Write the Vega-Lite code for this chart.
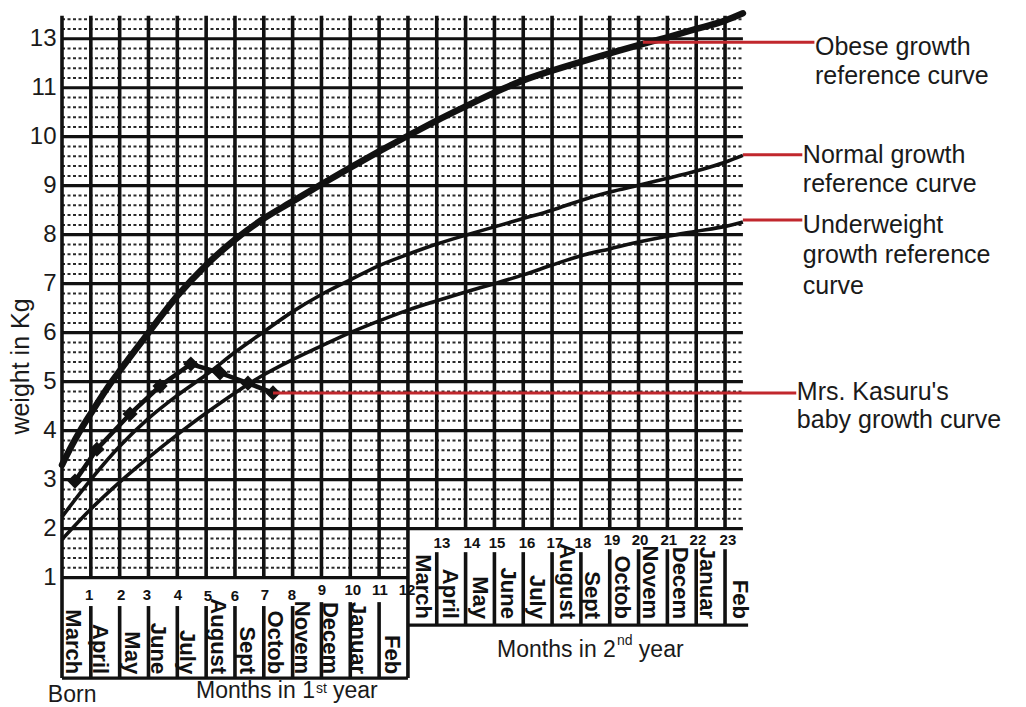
{
  "$schema": "https://vega.github.io/schema/vega-lite/v6.json",
  "width": 964,
  "height": 703,
  "autosize": "none",
  "padding": {"left": 62, "top": 2, "right": 0, "bottom": 2},
  "background": "white",
  "config": {"view": {"stroke": null}},
  "datasets": {
    "hdot": [
      {"x": 0, "x2": 12, "y": 1.2}, {"x": 0, "x2": 12, "y": 1.4}, {"x": 0, "x2": 12, "y": 1.6}, {"x": 0, "x2": 12, "y": 1.8},
      {"x": 0, "x2": 23.62, "y": 2.2}, {"x": 0, "x2": 23.62, "y": 2.4}, {"x": 0, "x2": 23.62, "y": 2.6}, {"x": 0, "x2": 23.62, "y": 2.8},
      {"x": 0, "x2": 23.62, "y": 3.2}, {"x": 0, "x2": 23.62, "y": 3.4}, {"x": 0, "x2": 23.62, "y": 3.6}, {"x": 0, "x2": 23.62, "y": 3.8},
      {"x": 0, "x2": 23.62, "y": 4.2}, {"x": 0, "x2": 23.62, "y": 4.4}, {"x": 0, "x2": 23.62, "y": 4.6}, {"x": 0, "x2": 23.62, "y": 4.8},
      {"x": 0, "x2": 23.62, "y": 5.2}, {"x": 0, "x2": 23.62, "y": 5.4}, {"x": 0, "x2": 23.62, "y": 5.6}, {"x": 0, "x2": 23.62, "y": 5.8},
      {"x": 0, "x2": 23.62, "y": 6.2}, {"x": 0, "x2": 23.62, "y": 6.4}, {"x": 0, "x2": 23.62, "y": 6.6}, {"x": 0, "x2": 23.62, "y": 6.8},
      {"x": 0, "x2": 23.62, "y": 7.2}, {"x": 0, "x2": 23.62, "y": 7.4}, {"x": 0, "x2": 23.62, "y": 7.6}, {"x": 0, "x2": 23.62, "y": 7.8},
      {"x": 0, "x2": 23.62, "y": 8.2}, {"x": 0, "x2": 23.62, "y": 8.4}, {"x": 0, "x2": 23.62, "y": 8.6}, {"x": 0, "x2": 23.62, "y": 8.8},
      {"x": 0, "x2": 23.62, "y": 9.2}, {"x": 0, "x2": 23.62, "y": 9.4}, {"x": 0, "x2": 23.62, "y": 9.6}, {"x": 0, "x2": 23.62, "y": 9.8},
      {"x": 0, "x2": 23.62, "y": 10.2}, {"x": 0, "x2": 23.62, "y": 10.4}, {"x": 0, "x2": 23.62, "y": 10.6}, {"x": 0, "x2": 23.62, "y": 10.8},
      {"x": 0, "x2": 23.62, "y": 11.2}, {"x": 0, "x2": 23.62, "y": 11.4}, {"x": 0, "x2": 23.62, "y": 11.6}, {"x": 0, "x2": 23.62, "y": 11.8},
      {"x": 0, "x2": 23.62, "y": 12.2}, {"x": 0, "x2": 23.62, "y": 12.4}
    ],
    "hgrid": [
      {"x": 0, "x2": 12, "y": 1},
      {"x": 0, "x2": 23.62, "y": 2}, {"x": 0, "x2": 23.62, "y": 3}, {"x": 0, "x2": 23.62, "y": 4}, {"x": 0, "x2": 23.62, "y": 5},
      {"x": 0, "x2": 23.62, "y": 6}, {"x": 0, "x2": 23.62, "y": 7}, {"x": 0, "x2": 23.62, "y": 8}, {"x": 0, "x2": 23.62, "y": 9},
      {"x": 0, "x2": 23.62, "y": 10}, {"x": 0, "x2": 23.62, "y": 11}, {"x": 0, "x2": 23.62, "y": 12},
      {"x": 0, "x2": 12, "y": -1.05},
      {"x": 12, "x2": 23.8, "y": 0.03}
    ],
    "vgrid": [
      {"x": 0, "y": -1.05, "y2": 12.47},
      {"x": 1, "y": 1, "y2": 12.47}, {"x": 2, "y": 1, "y2": 12.47}, {"x": 3, "y": 1, "y2": 12.47}, {"x": 4, "y": 1, "y2": 12.47},
      {"x": 5, "y": 1, "y2": 12.47}, {"x": 6, "y": 1, "y2": 12.47}, {"x": 7, "y": 1, "y2": 12.47}, {"x": 8, "y": 1, "y2": 12.47},
      {"x": 9, "y": 1, "y2": 12.47}, {"x": 10, "y": 1, "y2": 12.47}, {"x": 11, "y": 1, "y2": 12.47},
      {"x": 1, "y": -1.05, "y2": 0.42}, {"x": 2, "y": -1.05, "y2": 0.42}, {"x": 3, "y": -1.05, "y2": 0.42}, {"x": 4, "y": -1.05, "y2": 0.42},
      {"x": 5, "y": -1.05, "y2": 0.42}, {"x": 6, "y": -1.05, "y2": 0.42}, {"x": 7, "y": -1.05, "y2": 0.42}, {"x": 8, "y": -1.05, "y2": 0.42},
      {"x": 9, "y": -1.05, "y2": 0.5}, {"x": 10, "y": -1.05, "y2": 0.5}, {"x": 11, "y": -1.05, "y2": 0.5},
      {"x": 12, "y": -1.05, "y2": 12.47},
      {"x": 13, "y": 2, "y2": 12.47}, {"x": 14, "y": 2, "y2": 12.47}, {"x": 15, "y": 2, "y2": 12.47}, {"x": 16, "y": 2, "y2": 12.47},
      {"x": 17, "y": 2, "y2": 12.47}, {"x": 18, "y": 2, "y2": 12.47}, {"x": 19, "y": 2, "y2": 12.47}, {"x": 20, "y": 2, "y2": 12.47},
      {"x": 21, "y": 2, "y2": 12.47}, {"x": 22, "y": 2, "y2": 12.47}, {"x": 23, "y": 2, "y2": 12.47},
      {"x": 13, "y": 0.03, "y2": 1.52}, {"x": 14, "y": 0.03, "y2": 1.52}, {"x": 15, "y": 0.03, "y2": 1.52}, {"x": 16, "y": 0.03, "y2": 1.52},
      {"x": 17, "y": 0.03, "y2": 1.52}, {"x": 18, "y": 0.03, "y2": 1.52}, {"x": 19, "y": 0.03, "y2": 1.58}, {"x": 20, "y": 0.03, "y2": 1.58},
      {"x": 21, "y": 0.03, "y2": 1.58}, {"x": 22, "y": 0.03, "y2": 1.58}, {"x": 23, "y": 0.03, "y2": 1.58}
    ],
    "curves": [
      {"series": "obese", "x": 0, "y": 3.3}, {"series": "obese", "x": 0.3, "y": 3.65}, {"series": "obese", "x": 0.63, "y": 4.0},
      {"series": "obese", "x": 1, "y": 4.35}, {"series": "obese", "x": 1.7, "y": 4.98}, {"series": "obese", "x": 2, "y": 5.22},
      {"series": "obese", "x": 3, "y": 6.0}, {"series": "obese", "x": 4, "y": 6.75}, {"series": "obese", "x": 5, "y": 7.38},
      {"series": "obese", "x": 6, "y": 7.9}, {"series": "obese", "x": 7, "y": 8.33}, {"series": "obese", "x": 8, "y": 8.68},
      {"series": "obese", "x": 9, "y": 9.03}, {"series": "obese", "x": 10, "y": 9.37}, {"series": "obese", "x": 11, "y": 9.7},
      {"series": "obese", "x": 12, "y": 10.02}, {"series": "obese", "x": 13, "y": 10.33}, {"series": "obese", "x": 14, "y": 10.62},
      {"series": "obese", "x": 15.3, "y": 10.98}, {"series": "obese", "x": 16, "y": 11.15}, {"series": "obese", "x": 17, "y": 11.35},
      {"series": "obese", "x": 18, "y": 11.53}, {"series": "obese", "x": 19, "y": 11.7}, {"series": "obese", "x": 20, "y": 11.87},
      {"series": "obese", "x": 21, "y": 12.03}, {"series": "obese", "x": 22, "y": 12.2}, {"series": "obese", "x": 23, "y": 12.37},
      {"series": "obese", "x": 23.62, "y": 12.52},
      {"series": "normal", "x": 0, "y": 2.24}, {"series": "normal", "x": 1, "y": 3.0}, {"series": "normal", "x": 2, "y": 3.68},
      {"series": "normal", "x": 3, "y": 4.25}, {"series": "normal", "x": 4, "y": 4.72}, {"series": "normal", "x": 5, "y": 5.14},
      {"series": "normal", "x": 6, "y": 5.6}, {"series": "normal", "x": 7, "y": 6.02}, {"series": "normal", "x": 8, "y": 6.43},
      {"series": "normal", "x": 9, "y": 6.78}, {"series": "normal", "x": 10, "y": 7.08}, {"series": "normal", "x": 11, "y": 7.37},
      {"series": "normal", "x": 12, "y": 7.6}, {"series": "normal", "x": 13, "y": 7.81}, {"series": "normal", "x": 14, "y": 7.99},
      {"series": "normal", "x": 15, "y": 8.16}, {"series": "normal", "x": 16, "y": 8.33}, {"series": "normal", "x": 17, "y": 8.5},
      {"series": "normal", "x": 18, "y": 8.7}, {"series": "normal", "x": 19, "y": 8.87}, {"series": "normal", "x": 20, "y": 9.01},
      {"series": "normal", "x": 21, "y": 9.15}, {"series": "normal", "x": 22, "y": 9.3}, {"series": "normal", "x": 23, "y": 9.48},
      {"series": "normal", "x": 23.62, "y": 9.62},
      {"series": "under", "x": 0, "y": 1.78}, {"series": "under", "x": 1, "y": 2.4}, {"series": "under", "x": 2, "y": 2.95},
      {"series": "under", "x": 3, "y": 3.45}, {"series": "under", "x": 4, "y": 3.92}, {"series": "under", "x": 5, "y": 4.36},
      {"series": "under", "x": 6, "y": 4.77}, {"series": "under", "x": 7, "y": 5.14}, {"series": "under", "x": 8, "y": 5.45},
      {"series": "under", "x": 9, "y": 5.73}, {"series": "under", "x": 10, "y": 6.0}, {"series": "under", "x": 11, "y": 6.24},
      {"series": "under", "x": 12, "y": 6.46}, {"series": "under", "x": 13, "y": 6.65}, {"series": "under", "x": 14, "y": 6.83},
      {"series": "under", "x": 15, "y": 7.0}, {"series": "under", "x": 16, "y": 7.18}, {"series": "under", "x": 17, "y": 7.38},
      {"series": "under", "x": 18, "y": 7.57}, {"series": "under", "x": 19, "y": 7.71}, {"series": "under", "x": 20, "y": 7.85},
      {"series": "under", "x": 21, "y": 7.97}, {"series": "under", "x": 22, "y": 8.07}, {"series": "under", "x": 23, "y": 8.17},
      {"series": "under", "x": 23.62, "y": 8.26}
    ],
    "baby": [
      {"x": 0.45, "y": 2.97}, {"x": 1.21, "y": 3.62}, {"x": 2.36, "y": 4.34}, {"x": 3.4, "y": 4.91},
      {"x": 4.47, "y": 5.36}, {"x": 5.48, "y": 5.18}, {"x": 6.45, "y": 4.97}, {"x": 7.32, "y": 4.77}
    ],
    "pointers": [
      {"x": 20.15, "x2": 26.1, "y": 11.93},
      {"x": 23.62, "x2": 25.68, "y": 9.63},
      {"x": 23.62, "x2": 25.68, "y": 8.3},
      {"x": 7.32, "x2": 25.47, "y": 4.77}
    ],
    "notes": [
      {"x": 26.12, "y": 11.668, "text": "Obese growth"},
      {"x": 26.12, "y": 11.076, "text": "reference curve"},
      {"x": 25.7, "y": 9.464, "text": "Normal growth"},
      {"x": 25.7, "y": 8.872, "text": "reference curve"},
      {"x": 25.7, "y": 8.035, "text": "Underweight"},
      {"x": 25.7, "y": 7.422, "text": "growth reference"},
      {"x": 25.7, "y": 6.79, "text": "curve"},
      {"x": 25.49, "y": 4.626, "text": "Mrs. Kasuru's"},
      {"x": 25.49, "y": 4.054, "text": "baby growth curve"}
    ],
    "titles": [
      {"x": -0.49, "y": -1.54, "text": "Born"},
      {"x": 4.65, "y": -1.457, "text": "Months in 1"},
      {"x": 9.4, "y": -1.457, "text": "year"},
      {"x": 15.09, "y": -0.62, "text": "Months in 2"},
      {"x": 20.01, "y": -0.62, "text": "year"}
    ],
    "sups": [
      {"x": 8.81, "y": -1.355, "text": "st"},
      {"x": 19.25, "y": -0.375, "text": "nd"}
    ],
    "numbers": [
      {"x": 0.94, "y": 0.65, "text": "1"}, {"x": 2.05, "y": 0.65, "text": "2"}, {"x": 2.95, "y": 0.65, "text": "3"},
      {"x": 4.02, "y": 0.65, "text": "4"}, {"x": 5.06, "y": 0.62, "text": "5"}, {"x": 6.0, "y": 0.62, "text": "6"},
      {"x": 7.04, "y": 0.65, "text": "7"}, {"x": 7.98, "y": 0.65, "text": "8"}, {"x": 9.02, "y": 0.74, "text": "9"},
      {"x": 10.09, "y": 0.74, "text": "10"}, {"x": 11.03, "y": 0.74, "text": "11"}, {"x": 11.97, "y": 0.74, "text": "12"},
      {"x": 13.18, "y": 1.71, "text": "13"}, {"x": 14.22, "y": 1.71, "text": "14"}, {"x": 15.09, "y": 1.71, "text": "15"},
      {"x": 16.13, "y": 1.71, "text": "16"}, {"x": 17.1, "y": 1.71, "text": "17"}, {"x": 18.07, "y": 1.71, "text": "18"},
      {"x": 19.08, "y": 1.77, "text": "19"}, {"x": 20.05, "y": 1.77, "text": "20"}, {"x": 21.05, "y": 1.77, "text": "21"},
      {"x": 22.06, "y": 1.77, "text": "22"}, {"x": 23.1, "y": 1.77, "text": "23"}
    ],
    "months": [
      {"x": 0.38, "y": -0.97, "text": "March"}, {"x": 1.32, "y": -0.97, "text": "April"}, {"x": 2.43, "y": -0.97, "text": "May"},
      {"x": 3.33, "y": -0.97, "text": "June"}, {"x": 4.34, "y": -0.97, "text": "July"}, {"x": 5.41, "y": -0.97, "text": "August"},
      {"x": 6.42, "y": -0.97, "text": "Sept"}, {"x": 7.39, "y": -0.97, "text": "Octob"}, {"x": 8.32, "y": -0.97, "text": "Novem"},
      {"x": 9.3, "y": -0.97, "text": "Decem"}, {"x": 10.27, "y": -0.97, "text": "Januar"}, {"x": 11.45, "y": -0.97, "text": "Feb"},
      {"x": 12.52, "y": 0.156, "text": "March"}, {"x": 13.46, "y": 0.156, "text": "April"}, {"x": 14.5, "y": 0.156, "text": "May"},
      {"x": 15.47, "y": 0.156, "text": "June"}, {"x": 16.48, "y": 0.156, "text": "July"}, {"x": 17.52, "y": 0.156, "text": "August"},
      {"x": 18.38, "y": 0.156, "text": "Sept"}, {"x": 19.42, "y": 0.156, "text": "Octob"}, {"x": 20.4, "y": 0.156, "text": "Novem"},
      {"x": 21.44, "y": 0.156, "text": "Decem"}, {"x": 22.37, "y": 0.156, "text": "Januar"}, {"x": 23.52, "y": 0.156, "text": "Feb"}
    ]
  },
  "encoding": {
    "x": {"field": "x", "type": "quantitative", "scale": {"domain": [0, 33.44], "nice": false, "zero": false}, "axis": null},
    "y": {
      "field": "y", "type": "quantitative",
      "scale": {"domain": [-1.6, 12.75], "nice": false, "zero": false},
      "axis": {
        "values": [1, 2, 3, 4, 5, 6, 7, 8, 9, 10, 11, 12],
        "labelExpr": "datum.value == 12 ? '13' : datum.label",
        "grid": false, "ticks": false, "domain": false,
        "labelFont": "Liberation Sans", "labelFontSize": 24, "labelColor": "#1a1a1a",
        "labelPadding": 6, "labelFlush": false, "labelOverlap": false,
        "title": "weight in Kg", "titleFont": "Liberation Sans", "titleFontSize": 25,
        "titleFontWeight": "normal", "titleColor": "#1a1a1a",
        "titleX": -34, "titleY": 364, "titleAngle": 270, "titleBaseline": "alphabetic", "titleAlign": "center"
      }
    }
  },
  "layer": [
    {"data": {"name": "hdot"}, "mark": {"type": "rule", "strokeDash": [3, 2.5], "strokeWidth": 2, "color": "#2a2a2a"}, "encoding": {"x2": {"field": "x2"}}},
    {"data": {"name": "hgrid"}, "mark": {"type": "rule", "strokeWidth": 3.2, "color": "#111111"}, "encoding": {"x2": {"field": "x2"}}},
    {"data": {"name": "vgrid"}, "mark": {"type": "rule", "strokeWidth": 3.6, "color": "#111111"}, "encoding": {"y2": {"field": "y2"}}},
    {"data": {"name": "curves"}, "transform": [{"filter": "datum.series === 'under'"}], "mark": {"type": "line", "interpolate": "monotone", "strokeWidth": 3.6, "color": "#111111"}, "encoding": {}},
    {"data": {"name": "curves"}, "transform": [{"filter": "datum.series === 'normal'"}], "mark": {"type": "line", "interpolate": "monotone", "strokeWidth": 3.6, "color": "#111111"}, "encoding": {}},
    {"data": {"name": "curves"}, "transform": [{"filter": "datum.series === 'obese'"}], "mark": {"type": "line", "interpolate": "monotone", "strokeWidth": 6.5, "color": "#111111", "strokeCap": "round"}, "encoding": {}},
    {"data": {"name": "baby"}, "mark": {"type": "line", "strokeWidth": 4.5, "color": "#111111"}, "encoding": {}},
    {"data": {"name": "baby"}, "mark": {"type": "point", "shape": "diamond", "filled": true, "size": 230, "color": "#111111", "opacity": 1}, "encoding": {}},
    {"data": {"name": "pointers"}, "mark": {"type": "rule", "strokeWidth": 3, "color": "#c1272d"}, "encoding": {"x2": {"field": "x2"}}},
    {"data": {"name": "notes"}, "mark": {"type": "text", "align": "left", "baseline": "alphabetic", "font": "Liberation Sans", "fontSize": 25, "color": "#1a1a1a"}, "encoding": {"text": {"field": "text"}}},
    {"data": {"name": "titles"}, "mark": {"type": "text", "align": "left", "baseline": "alphabetic", "font": "Liberation Sans", "fontSize": 23, "color": "#1a1a1a"}, "encoding": {"text": {"field": "text"}}},
    {"data": {"name": "sups"}, "mark": {"type": "text", "align": "left", "baseline": "alphabetic", "font": "Liberation Sans", "fontSize": 14, "color": "#1a1a1a"}, "encoding": {"text": {"field": "text"}}},
    {"data": {"name": "numbers"}, "mark": {"type": "text", "align": "center", "baseline": "middle", "font": "Liberation Sans", "fontSize": 15, "fontWeight": "bold", "color": "#111111"}, "encoding": {"text": {"field": "text"}}},
    {"data": {"name": "months"}, "mark": {"type": "text", "align": "right", "baseline": "middle", "angle": 90, "font": "Liberation Sans", "fontSize": 22, "fontWeight": "bold", "color": "#111111"}, "encoding": {"text": {"field": "text"}}}
  ]
}
